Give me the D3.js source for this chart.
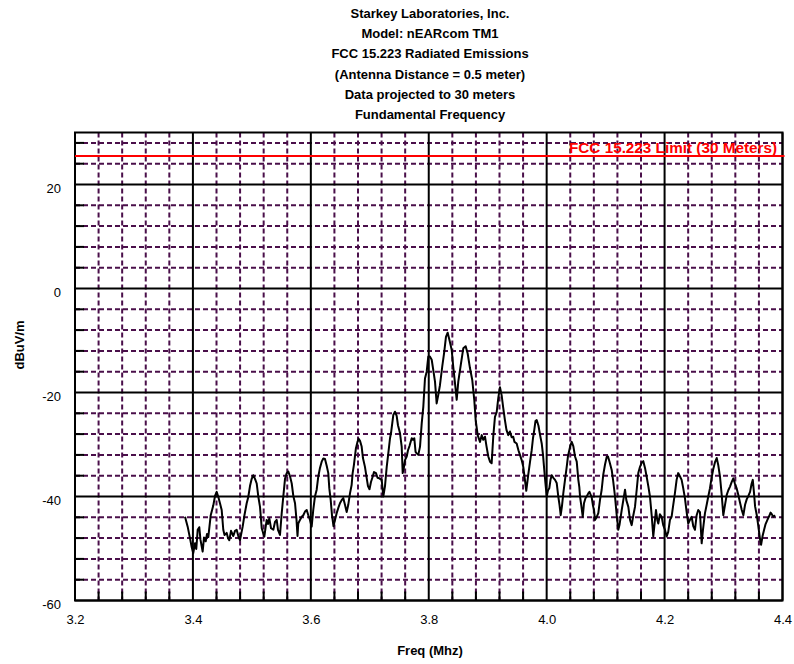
<!DOCTYPE html>
<html>
<head>
<meta charset="utf-8">
<script src="https://cdn.jsdelivr.net/npm/d3@7"></script>
<style>
  html, body { margin: 0; padding: 0; background: #fff; }
  svg { display: block; font-family: "Liberation Sans", Arial, sans-serif; }
</style>
</head>
<body>
<svg id="chart" width="794" height="664"></svg>
<script>
// Chart titles
const titleLines = [
  "Starkey Laboratories, Inc.",
  "Model: nEARcom TM1",
  "FCC 15.223 Radiated Emissions",
  "(Antenna Distance = 0.5 meter)",
  "Data projected to 30 meters",
  "Fundamental Frequency"
];
const xLabel = "Freq (Mhz)";
const yLabel = "dBuV/m";

// Axis ranges and ticks
const xDomain = [3.2, 4.4];
const yDomain = [-60, 30];
const xMajorTicks = [3.2, 3.4, 3.6, 3.8, 4.0, 4.2, 4.4];
const xTickLabels = ["3.2", "3.4", "3.6", "3.8", "4.0", "4.2", "4.4"];
const yMajorTicks = [-60, -40, -20, 0, 20];
const yTickLabels = ["-60", "-40", "-20", "0", "20"];
const xMinorStep = 0.04;
const yMinorStep = 4;

// Limit line
const limitLevel = 25.5;
const limitLabel = "FCC 15.223 Limit (30 Meters)";

// Measured emission trace (MHz, dBuV/m)
const freqMHz = [
  3.3866,3.3911,3.3950,3.3979,3.4006,3.4035,3.4057,3.4081,3.4108,3.4128,
  3.4165,3.4188,3.4217,3.4239,3.4261,3.4302,3.4346,3.4375,3.4403,3.4431,
  3.4459,3.4488,3.4515,3.4536,3.4573,3.4595,3.4617,3.4646,3.4685,3.4714,
  3.4742,3.4770,3.4798,3.4844,3.4874,3.4912,3.4939,3.4968,3.4997,3.5024,
  3.5053,3.5082,3.5109,3.5138,3.5167,3.5194,3.5211,3.5251,3.5273,3.5296,
  3.5325,3.5364,3.5392,3.5421,3.5443,3.5477,3.5506,3.5533,3.5562,3.5591,
  3.5618,3.5647,3.5676,3.5703,3.5732,3.5757,3.5774,3.5787,3.5816,3.5845,
  3.5872,3.5901,3.5930,3.5957,3.5986,3.6014,3.6041,3.6070,3.6099,3.6126,
  3.6155,3.6184,3.6211,3.6240,3.6269,3.6296,3.6313,3.6337,3.6359,3.6384,
  3.6410,3.6438,3.6466,3.6494,3.6523,3.6550,3.6579,3.6608,3.6635,3.6664,
  3.6692,3.6709,3.6731,3.6765,3.6791,3.6811,3.6834,3.6862,3.6884,3.6918,
  3.6947,3.6969,3.6995,3.7020,3.7049,3.7071,3.7105,3.7131,3.7161,3.7202,
  3.7229,3.7258,3.7287,3.7314,3.7343,3.7360,3.7399,3.7427,3.7456,3.7478,
  3.7512,3.7541,3.7558,3.7572,3.7597,3.7626,3.7648,3.7673,3.7711,3.7733,
  3.7755,3.7776,3.7796,3.7823,3.7852,3.7881,3.7908,3.7936,3.7965,3.7992,
  3.8021,3.8050,3.8077,3.8106,3.8134,3.8161,3.8190,3.8229,3.8263,3.8292,
  3.8321,3.8351,3.8389,3.8416,3.8445,3.8474,3.8501,3.8547,3.8586,3.8626,
  3.8660,3.8699,3.8738,3.8772,3.8796,3.8830,3.8869,3.8898,3.8925,3.8954,
  3.8979,3.9010,3.9039,3.9067,3.9094,3.9123,3.9152,3.9179,3.9208,3.9237,
  3.9264,3.9292,3.9318,3.9349,3.9377,3.9406,3.9433,3.9454,3.9491,3.9521,
  3.9547,3.9576,3.9603,3.9627,3.9654,3.9688,3.9717,3.9746,3.9768,3.9790,
  3.9810,3.9831,3.9861,3.9887,3.9916,3.9938,3.9955,3.9977,4.0001,4.0023,
  4.0045,4.0065,4.0086,4.0113,4.0142,4.0170,4.0197,4.0218,4.0238,4.0260,
  4.0282,4.0311,4.0340,4.0362,4.0384,4.0404,4.0425,4.0452,4.0481,4.0510,
  4.0537,4.0554,4.0566,4.0586,4.0612,4.0633,4.0659,4.0679,4.0706,4.0726,
  4.0763,4.0786,4.0803,4.0820,4.0842,4.0876,4.0904,4.0933,4.0960,4.0989,
  4.1018,4.1040,4.1066,4.1103,4.1130,4.1159,4.1188,4.1215,4.1235,4.1273,
  4.1300,4.1329,4.1351,4.1385,4.1414,4.1442,4.1470,4.1498,4.1527,4.1554,
  4.1583,4.1612,4.1639,4.1668,4.1696,4.1724,4.1752,4.1781,4.1808,4.1828,
  4.1854,4.1876,4.1893,4.1921,4.1950,4.1977,4.2006,4.2035,4.2062,4.2091,
  4.2119,4.2147,4.2175,4.2204,4.2231,4.2260,4.2289,4.2316,4.2345,4.2374,
  4.2401,4.2430,4.2459,4.2486,4.2515,4.2544,4.2571,4.2600,4.2629,4.2651,
  4.2685,4.2714,4.2741,4.2770,4.2799,4.2826,4.2855,4.2884,4.2911,4.2940,
  4.2969,4.2996,4.3025,4.3054,4.3081,4.3110,4.3139,4.3166,4.3195,4.3224,
  4.3251,4.3280,4.3309,4.3336,4.3365,4.3394,4.3421,4.3450,4.3475,4.3496,
  4.3518,4.3535,4.3564,4.3591,4.3620,4.3637,4.3662,4.3688,4.3713,4.3744,
  4.3773,4.3798,4.3823,4.3846,4.3873
];
const levelDb = [
  -43.9,-45.8,-48.0,-49.7,-50.9,-49.0,-50.1,-46.4,-45.9,-48.3,
  -50.6,-47.9,-48.6,-47.2,-47.8,-43.6,-41.7,-39.9,-39.1,-40.1,
  -41.3,-42.6,-46.4,-47.4,-47.0,-48.0,-48.4,-46.6,-47.6,-46.6,
  -46.4,-47.6,-48.4,-45.8,-43.6,-41.3,-40.1,-38.0,-36.6,-35.9,
  -36.6,-37.5,-40.0,-42.0,-46.1,-47.1,-47.7,-44.5,-45.3,-44.2,
  -46.1,-46.4,-44.9,-44.5,-46.4,-47.4,-43.2,-40.0,-36.6,-35.5,
  -35.2,-36.1,-37.5,-39.9,-41.3,-44.5,-47.6,-45.2,-44.5,-43.9,
  -43.6,-42.9,-42.6,-43.6,-44.5,-45.8,-42.6,-40.0,-38.7,-36.2,
  -34.5,-33.3,-32.7,-32.8,-34.1,-35.5,-38.4,-40.7,-43.6,-45.7,
  -44.5,-43.2,-42.2,-41.3,-40.7,-40.3,-41.6,-43.0,-41.6,-39.4,
  -37.8,-35.5,-33.9,-30.7,-29.5,-28.9,-29.3,-30.4,-32.6,-34.3,
  -36.4,-38.0,-38.6,-37.2,-36.2,-35.3,-35.5,-36.4,-36.5,-36.8,
  -40.0,-38.0,-34.3,-31.7,-28.8,-27.8,-24.3,-23.7,-24.5,-26.3,
  -27.8,-30.4,-35.5,-34.9,-33.0,-32.3,-31.1,-30.3,-28.8,-29.1,
  -28.8,-31.4,-31.7,-32.0,-30.4,-25.9,-22.7,-17.3,-16.0,-13.1,
  -13.1,-13.7,-15.7,-17.9,-22.1,-20.5,-18.6,-15.0,-12.2,-9.3,
  -8.5,-9.9,-11.8,-15.1,-18.2,-21.4,-17.9,-14.4,-11.5,-11.1,
  -12.5,-15.3,-17.6,-21.4,-25.3,-28.2,-29.5,-28.2,-29.1,-28.5,
  -30.3,-32.3,-33.3,-33.6,-28.5,-24.7,-23.8,-21.1,-19.0,-20.6,
  -23.0,-25.3,-27.2,-28.2,-27.5,-28.6,-28.5,-29.5,-29.8,-31.1,
  -32.0,-33.0,-34.3,-36.4,-38.9,-35.8,-33.4,-31.1,-28.8,-27.2,
  -25.5,-25.3,-26.4,-28.1,-29.8,-32.0,-34.3,-37.2,-40.0,-38.8,
  -38.4,-36.8,-35.9,-36.4,-36.8,-37.4,-40.0,-41.6,-43.6,-41.8,
  -39.4,-36.8,-34.3,-32.2,-31.1,-30.1,-29.5,-30.3,-32.3,-33.3,
  -36.8,-38.2,-40.0,-41.6,-43.9,-41.3,-40.3,-40.0,-39.4,-39.1,
  -40.1,-41.8,-42.6,-44.5,-44.1,-43.2,-40.7,-38.7,-35.8,-33.9,
  -32.4,-32.3,-33.3,-34.9,-37.2,-40.0,-43.6,-46.4,-45.5,-42.6,
  -40.7,-38.7,-40.7,-42.0,-44.5,-45.5,-43.6,-42.0,-38.7,-35.5,
  -34.3,-33.5,-33.2,-34.5,-36.2,-38.0,-40.0,-43.6,-47.7,-45.5,
  -42.6,-44.5,-45.2,-43.4,-43.9,-45.5,-46.4,-47.7,-46.8,-44.5,
  -43.9,-41.6,-39.4,-36.8,-35.5,-36.1,-36.8,-38.4,-40.3,-43.0,
  -45.2,-44.5,-43.9,-45.7,-46.4,-43.6,-42.6,-43.0,-49.0,-46.4,
  -43.2,-41.6,-40.0,-38.4,-36.3,-34.7,-33.4,-32.6,-34.0,-36.2,
  -39.7,-43.6,-41.6,-39.7,-38.8,-38.1,-37.2,-36.5,-37.6,-38.5,
  -39.7,-41.2,-42.6,-43.6,-41.6,-40.5,-39.9,-39.1,-37.6,-36.8,
  -39.5,-41.9,-43.6,-45.8,-48.3,-49.3,-47.6,-46.4,-45.3,-44.5,
  -43.8,-43.1,-43.5,-43.9,-43.6
];

const trace = freqMHz.map((f, i) => ({ f, v: levelDb[i] }));

// Layout
const plot = { left: 75, right: 782.5, top: 132.5, bottom: 600.5 };
const gridColor = "#4a0f4a";

const svg = d3.select("#chart");

const x = d3.scaleLinear().domain(xDomain).range([plot.left, plot.right]);
const y = d3.scaleLinear().domain(yDomain).range([plot.bottom, plot.top]);

const xMinor = d3.range(xDomain[0], xDomain[1] + 1e-9, xMinorStep)
  .filter(v => !xMajorTicks.some(t => Math.abs(t - v) < 1e-6));
const yMinor = d3.range(yDomain[0], yDomain[1] + 1e-9, yMinorStep)
  .filter(v => !yMajorTicks.some(t => Math.abs(t - v) < 1e-6));

// Minor dashed grid
const g = svg.append("g");
g.selectAll("line.xminor").data(xMinor).join("line")
  .attr("x1", d => x(d)).attr("x2", d => x(d))
  .attr("y1", plot.top).attr("y2", plot.bottom)
  .attr("stroke", gridColor).attr("stroke-width", 2)
  .attr("stroke-dasharray", "5,3");
g.selectAll("line.yminor").data(yMinor).join("line")
  .attr("y1", d => y(d)).attr("y2", d => y(d))
  .attr("x1", plot.left).attr("x2", plot.right)
  .attr("stroke", gridColor).attr("stroke-width", 2)
  .attr("stroke-dasharray", "5,3");

// Inner tick stubs along left and bottom edges
g.selectAll("line.ytick").data(yMinor).join("line")
  .attr("y1", d => y(d)).attr("y2", d => y(d))
  .attr("x1", plot.left).attr("x2", plot.left + 9)
  .attr("stroke", "#000").attr("stroke-width", 2);
g.selectAll("line.xtick").data(xMinor).join("line")
  .attr("x1", d => x(d)).attr("x2", d => x(d))
  .attr("y1", plot.bottom).attr("y2", plot.bottom - 9)
  .attr("stroke", "#000").attr("stroke-width", 2);

// Major solid grid
g.selectAll("line.xmajor").data(xMajorTicks).join("line")
  .attr("x1", d => x(d)).attr("x2", d => x(d))
  .attr("y1", plot.top).attr("y2", plot.bottom)
  .attr("stroke", "#000").attr("stroke-width", 2);
g.selectAll("line.ymajor").data(yMajorTicks).join("line")
  .attr("y1", d => y(d)).attr("y2", d => y(d))
  .attr("x1", plot.left).attr("x2", plot.right)
  .attr("stroke", "#000").attr("stroke-width", 2);

// Plot frame
svg.append("rect")
  .attr("x", plot.left).attr("y", plot.top)
  .attr("width", plot.right - plot.left).attr("height", plot.bottom - plot.top)
  .attr("fill", "none").attr("stroke", "#000").attr("stroke-width", 2);

// Tick labels via d3 axes (lines hidden)
const xAxis = d3.axisBottom(x).tickValues(xMajorTicks)
  .tickFormat((d, i) => xTickLabels[i]).tickSize(0).tickPadding(14);
const xg = svg.append("g").attr("transform", `translate(0,${plot.bottom})`).call(xAxis);
xg.select(".domain").remove();
xg.selectAll("text").attr("font-size", 13).attr("fill", "#000")
  .attr("font-family", "Liberation Sans, Arial, sans-serif");

const yAxis = d3.axisLeft(y).tickValues(yMajorTicks)
  .tickFormat((d, i) => yTickLabels[i]).tickSize(0).tickPadding(14);
const yg = svg.append("g").attr("transform", `translate(${plot.left},0)`).call(yAxis);
yg.select(".domain").remove();
yg.selectAll("text").attr("font-size", 13).attr("fill", "#000")
  .attr("dy", "0.6em")
  .attr("font-family", "Liberation Sans, Arial, sans-serif");

// Limit line and label
svg.append("line")
  .attr("x1", plot.left).attr("x2", plot.right + 2)
  .attr("y1", y(limitLevel)).attr("y2", y(limitLevel))
  .attr("stroke", "#ff0000").attr("stroke-width", 2);
svg.append("text")
  .attr("x", 777).attr("y", y(limitLevel) - 3)
  .attr("text-anchor", "end")
  .attr("font-size", 15).attr("font-weight", "bold")
  .attr("textLength", 208).attr("lengthAdjust", "spacingAndGlyphs")
  .attr("fill", "#ff0000")
  .text(limitLabel);

// Emission trace
const line = d3.line().x(d => x(d.f)).y(d => y(d.v));
svg.append("path")
  .datum(trace)
  .attr("d", line)
  .attr("fill", "none")
  .attr("stroke", "#000")
  .attr("stroke-width", 2)
  .attr("stroke-linejoin", "round");

// Title block
svg.append("g").selectAll("text").data(titleLines).join("text")
  .attr("x", 430).attr("y", (d, i) => 18 + i * 20.2)
  .attr("text-anchor", "middle")
  .attr("font-size", 13).attr("font-weight", "bold")
  .text(d => d);

// Axis titles
svg.append("text")
  .attr("x", 430).attr("y", 655)
  .attr("text-anchor", "middle")
  .attr("font-size", 13).attr("font-weight", "bold")
  .text(xLabel);
svg.append("text")
  .attr("transform", `translate(24,345) rotate(-90)`)
  .attr("text-anchor", "middle")
  .attr("font-size", 13).attr("font-weight", "bold")
  .text(yLabel);
</script>
</body>
</html>
